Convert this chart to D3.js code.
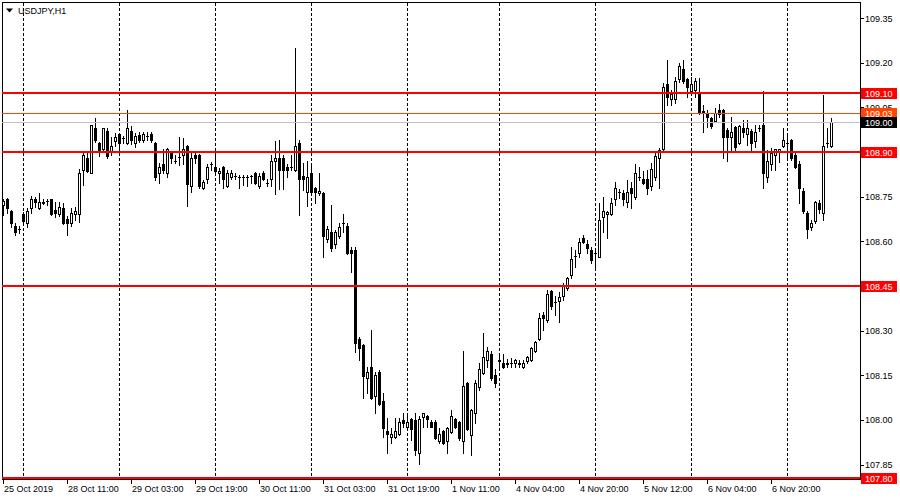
<!DOCTYPE html>
<html><head><meta charset="utf-8">
<script src="https://cdn.jsdelivr.net/npm/d3@7"></script>
<style>body{margin:0;background:#fff}svg{display:block}text{font-family:"Liberation Sans",Arial,sans-serif;font-size:9px}</style>
</head><body>
<script>
const symbolTitle = "USDJPY,H1";
const opens = [108.721,108.742,108.701,108.651,108.641,108.691,108.661,108.711,108.742,108.711,108.728,108.735,108.742,108.705,108.691,108.711,108.674,108.661,108.691,108.691,108.839,108.880,108.829,108.980,108.930,108.910,108.970,108.903,108.937,108.960,108.947,108.930,108.970,108.930,108.957,108.940,108.953,108.960,108.930,108.829,108.859,108.829,108.900,108.870,108.883,108.890,108.920,108.785,108.890,108.890,108.779,108.809,108.859,108.849,108.829,108.849,108.785,108.816,108.819,108.816,108.816,108.816,108.819,108.829,108.785,108.829,108.796,108.809,108.870,108.880,108.880,108.849,108.849,108.839,108.930,108.819,108.765,108.829,108.779,108.762,108.762,108.607,108.631,108.590,108.617,108.661,108.651,108.570,108.570,108.271,108.251,108.140,108.177,108.079,108.160,108.063,107.962,107.942,107.942,107.952,107.999,107.978,108.002,107.999,107.888,108.009,108.012,107.992,107.992,107.928,107.962,107.928,107.958,108.002,107.992,107.928,108.123,107.948,108.022,108.110,108.157,108.200,108.220,108.150,108.197,108.190,108.190,108.190,108.190,108.190,108.177,108.197,108.200,108.231,108.271,108.352,108.335,108.432,108.395,108.399,108.416,108.443,108.486,108.550,108.560,108.611,108.590,108.570,108.560,108.547,108.681,108.691,108.691,108.742,108.765,108.762,108.732,108.779,108.748,108.816,108.809,108.809,108.785,108.816,108.880,108.910,109.128,109.078,109.078,109.145,109.179,109.145,109.104,109.108,109.101,109.037,109.031,109.014,109.004,109.041,109.041,108.974,108.950,108.984,108.930,108.980,108.960,108.970,108.937,108.980,108.990,108.816,108.859,108.890,108.900,108.920,108.930,108.940,108.890,108.859,108.768,108.695,108.648,108.668,108.728,108.695,108.930,108.920];
const highs = [108.742,108.745,108.705,108.661,108.651,108.698,108.711,108.752,108.748,108.762,108.742,108.742,108.743,108.732,108.732,108.728,108.685,108.711,108.715,108.842,108.900,108.896,108.991,109.014,108.933,108.981,108.981,108.950,108.963,108.963,108.953,109.041,108.987,108.963,108.967,108.967,108.967,108.967,108.933,108.863,108.910,108.913,108.903,108.890,108.950,108.947,108.923,108.900,108.900,108.893,108.806,108.859,108.866,108.890,108.846,108.853,108.839,108.839,108.829,108.822,108.822,108.822,108.822,108.832,108.829,108.836,108.809,108.890,108.937,108.940,108.890,108.859,108.890,109.249,108.940,108.863,108.870,108.863,108.782,108.829,108.765,108.651,108.721,108.637,108.661,108.691,108.661,108.580,108.580,108.278,108.254,108.177,108.301,108.160,108.167,108.089,108.005,107.972,108.005,108.005,108.022,108.022,108.005,108.022,108.012,108.025,108.015,107.999,107.999,107.972,107.965,107.975,108.032,108.005,107.995,108.231,108.127,108.036,108.133,108.190,108.291,108.244,108.231,108.170,108.217,108.220,108.204,108.207,108.204,108.200,108.200,108.214,108.244,108.264,108.358,108.362,108.436,108.436,108.416,108.429,108.459,108.479,108.580,108.570,108.611,108.621,108.604,108.580,108.570,108.728,108.748,108.701,108.745,108.799,108.775,108.772,108.806,108.799,108.859,108.849,108.836,108.839,108.863,108.896,108.913,109.131,109.209,109.108,109.152,109.199,109.209,109.148,109.152,109.148,109.148,109.057,109.041,109.017,109.047,109.061,109.044,108.980,109.017,108.987,108.990,109.007,109.007,108.977,108.990,108.990,109.104,108.906,108.913,108.911,108.911,108.980,108.957,108.943,108.896,108.870,108.779,108.701,108.671,108.735,108.738,109.091,108.980,109.014];
const lows = [108.688,108.695,108.648,108.621,108.627,108.661,108.648,108.695,108.715,108.708,108.725,108.721,108.688,108.681,108.685,108.658,108.621,108.651,108.671,108.664,108.789,108.834,108.828,108.933,108.886,108.900,108.880,108.890,108.920,108.900,108.930,108.926,108.926,108.916,108.933,108.933,108.940,108.933,108.806,108.796,108.829,108.816,108.863,108.863,108.856,108.859,108.718,108.765,108.863,108.779,108.775,108.796,108.839,108.832,108.796,108.779,108.782,108.809,108.809,108.779,108.789,108.785,108.796,108.792,108.779,108.806,108.785,108.785,108.758,108.775,108.775,108.816,108.839,108.836,108.688,108.772,108.718,108.762,108.728,108.755,108.547,108.597,108.567,108.577,108.611,108.631,108.557,108.496,108.227,108.200,108.073,108.089,108.069,108.022,108.049,107.942,107.888,107.922,107.938,107.948,107.975,107.965,107.932,107.881,107.851,107.975,107.975,107.975,107.935,107.922,107.918,107.888,107.955,107.972,107.932,107.888,107.965,107.881,107.989,108.100,108.153,108.177,108.133,108.110,108.177,108.173,108.177,108.177,108.177,108.177,108.176,108.190,108.197,108.227,108.268,108.301,108.328,108.372,108.352,108.328,108.402,108.436,108.476,108.513,108.547,108.594,108.560,108.527,108.510,108.546,108.631,108.611,108.688,108.721,108.745,108.721,108.715,108.711,108.742,108.806,108.792,108.758,108.772,108.806,108.779,108.906,109.057,109.057,109.064,109.135,109.131,109.084,109.098,109.084,109.027,108.967,108.984,108.980,109.000,109.017,108.880,108.870,108.906,108.900,108.926,108.950,108.923,108.906,108.916,108.970,108.779,108.799,108.839,108.839,108.866,108.916,108.873,108.873,108.846,108.728,108.695,108.611,108.637,108.661,108.695,108.671,108.916,108.916];
const closes = [108.735,108.711,108.661,108.631,108.640,108.668,108.701,108.742,108.732,108.732,108.732,108.736,108.691,108.695,108.715,108.661,108.661,108.695,108.701,108.829,108.890,108.836,108.990,108.940,108.903,108.980,108.886,108.920,108.950,108.930,108.946,108.980,108.940,108.953,108.940,108.960,108.954,108.940,108.816,108.849,108.839,108.910,108.880,108.869,108.884,108.910,108.792,108.880,108.880,108.785,108.799,108.849,108.860,108.836,108.836,108.809,108.829,108.829,108.820,108.817,108.815,108.817,108.820,108.796,108.819,108.809,108.797,108.870,108.880,108.839,108.839,108.839,108.850,108.920,108.809,108.809,108.816,108.765,108.765,108.768,108.617,108.641,108.577,108.631,108.648,108.660,108.560,108.560,108.258,108.241,108.147,108.160,108.073,108.150,108.052,107.972,107.952,107.952,107.962,107.992,107.989,107.992,107.968,107.898,108.002,108.022,108.002,107.978,107.938,107.952,107.922,107.972,108.012,107.978,107.938,108.113,107.968,108.032,108.123,108.170,108.210,108.231,108.140,108.123,108.200,108.177,108.189,108.191,108.200,108.189,108.190,108.210,108.241,108.261,108.342,108.342,108.422,108.382,108.396,108.412,108.453,108.476,108.540,108.551,108.597,108.597,108.577,108.537,108.561,108.671,108.701,108.698,108.728,108.779,108.766,108.742,108.765,108.762,108.829,108.817,108.796,108.779,108.843,108.886,108.906,109.118,109.084,109.094,109.138,109.189,109.138,109.118,109.128,109.138,109.031,109.036,109.017,108.987,109.031,109.027,108.950,108.950,108.967,108.916,108.987,108.967,108.980,108.930,108.967,108.981,108.829,108.870,108.896,108.910,108.910,108.940,108.931,108.880,108.849,108.779,108.701,108.641,108.661,108.732,108.708,108.920,108.931,109.000];
const timeLabels = ["25 Oct 2019","28 Oct 11:00","29 Oct 03:00","29 Oct 19:00","30 Oct 11:00","31 Oct 03:00","31 Oct 19:00","1 Nov 11:00","4 Nov 04:00","4 Nov 20:00","5 Nov 12:00","6 Nov 04:00","6 Nov 20:00"];
const barsPerLabel = 16;
const daySeparatorBars = [5,29,53,77,101,124,148,172,196];
const priceTicks = [109.35,109.20,109.05,108.90,108.75,108.60,108.45,108.30,108.15,108.00,107.85];
const levelLines = [109.10,108.90,108.45,107.80];
const askPrice = 109.03;
const bidPrice = 109.00;

(function () {
const W = 900, H = 500;
const pL = 2, pR = 860, pT = 2, pB = 479;
const n = closes.length;
const x = d3.scaleLinear().domain([0, n - 1]).range([3, 3 + 4 * (n - 1)]);
const y = d3.scaleLinear().domain([109.10, 108.45]).range([92.5, 286]);

const svg = d3.select("body").append("svg").attr("width", W).attr("height", H);
svg.append("defs").append("clipPath").attr("id","plot")
  .append("rect").attr("x", pL).attr("y", pT).attr("width", pR-pL).attr("height", pB-pT);

// day separators
svg.append("g").selectAll("line").data(daySeparatorBars).join("line")
  .attr("x1", d => x(d) + 0.5).attr("x2", d => x(d) + 0.5)
  .attr("y1", pT + 1).attr("y2", pB - 1)
  .attr("stroke", "#000").attr("stroke-width", 1).attr("stroke-dasharray", "3,2");

// candles
const cg = svg.append("g").attr("clip-path","url(#plot)");
const bars = d3.range(n).map(i => ({i, o: opens[i], h: highs[i], l: lows[i], c: closes[i]}));
bars.forEach(b => {
  const cx = Math.round(x(b.i));
  const yh = Math.round(y(b.h)), yl = Math.round(y(b.l));
  cg.append("rect").attr("x", cx).attr("y", yh).attr("width", 1).attr("height", Math.max(1, yl - yh + 1)).attr("fill", "#000");
  const yt = Math.round(y(Math.max(b.o, b.c))), yb = Math.round(y(Math.min(b.o, b.c)));
  cg.append("rect").attr("x", cx - 1).attr("y", yt).attr("width", 3).attr("height", yb - yt + 1).attr("fill", "#000");
  if (b.c > b.o && yb - yt >= 2) {
    cg.append("rect").attr("x", cx).attr("y", yt + 1).attr("width", 1).attr("height", yb - yt - 1).attr("fill", "#fff");
  }
});

// frame
svg.append("rect").attr("x", pL + 0.5).attr("y", pT + 0.5).attr("width", pR - pL).attr("height", pB - pT)
  .attr("fill", "none").attr("stroke", "#000");

// bid / ask lines
const lg = svg.append("g").attr("clip-path","url(#plot)");
lg.append("line").attr("x1", pL).attr("x2", pR).attr("y1", Math.round(y(bidPrice)) + 0.5).attr("y2", Math.round(y(bidPrice)) + 0.5).attr("stroke", "#c0c0c0");
lg.append("line").attr("x1", pL).attr("x2", pR).attr("y1", Math.round(y(askPrice)) + 0.5).attr("y2", Math.round(y(askPrice)) + 0.5).attr("stroke", "#ff4500");
lg.selectAll("line.lvl").data(levelLines).join("line").attr("class","lvl")
  .attr("x1", pL).attr("x2", pR)
  .attr("y1", d => Math.min(Math.round(y(d)), pB - 1)).attr("y2", d => Math.min(Math.round(y(d)), pB - 1))
  .attr("stroke", "#ff0000").attr("stroke-width", 2);

// price axis ticks + labels
const pa = svg.append("g");
pa.selectAll("line").data(priceTicks).join("line")
  .attr("x1", pR + 1).attr("x2", pR + 4)
  .attr("y1", d => Math.round(y(d)) + 0.5).attr("y2", d => Math.round(y(d)) + 0.5).attr("stroke", "#000");
pa.selectAll("text").data(priceTicks).join("text")
  .attr("x", 865).attr("y", d => y(d) + 3.5).attr("fill", "#000")
  .text(d => d.toFixed(2));

// price tags
function tag(p, bg, yy) {
  const cy = yy === undefined ? y(p) : yy;
  svg.append("rect").attr("x", 861).attr("y", Math.round(cy) - 5).attr("width", 36).attr("height", 11).attr("fill", bg);
  svg.append("text").attr("x", 865).attr("y", Math.round(cy) + 3.5).attr("fill", "#fff").text(p.toFixed(2));
}
tag(askPrice, "#ff4500");
tag(bidPrice, "#000");
levelLines.forEach(p => tag(p, "#ff0000", Math.min(y(p), pB - 1)));

// time axis
const tIdx = timeLabels.map((t, k) => ({t, i: k * barsPerLabel}));
const ta = svg.append("g");
ta.selectAll("line").data(tIdx).join("line")
  .attr("x1", d => Math.round(x(d.i)) + 0.5).attr("x2", d => Math.round(x(d.i)) + 0.5)
  .attr("y1", pB + 1).attr("y2", pB + 5).attr("stroke", "#000");
ta.selectAll("text").data(tIdx).join("text")
  .attr("x", d => Math.round(x(d.i)) + 1).attr("y", 492).attr("fill", "#000")
  .text(d => d.t);

// title
svg.append("path").attr("d", "M6,8.5 L13,8.5 L9.5,12.5 Z").attr("fill", "#000");
svg.append("text").attr("x", 18).attr("y", 14).attr("fill", "#000").text(symbolTitle);
})();
</script>
</body></html>
